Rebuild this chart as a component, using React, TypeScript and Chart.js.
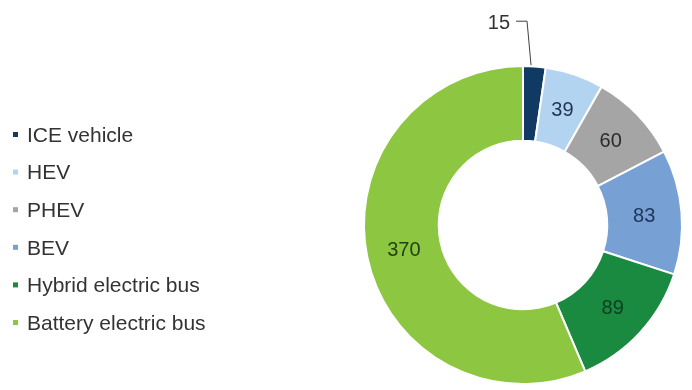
import React, { useEffect, useRef } from "react";
import { Chart, registerables } from "chart.js";

Chart.register(...registerables);

const categories = ["ICE vehicle", "HEV", "PHEV", "BEV", "Hybrid electric bus", "Battery electric bus"];
const values = [15, 39, 60, 83, 89, 370];
const sliceColors = ["#103a63", "#b3d4f0", "#a5a5a5", "#77a0d4", "#1a8a41", "#8dc641"];
const labelColors = ["#333333", "#1f3552", "#2b2b2b", "#1d3557", "#0f3d1f", "#24410f"];

const FONT = "'Liberation Sans', Arial, Helvetica, sans-serif";

const labelPlugin = {
  id: "sliceLabels",
  afterDatasetsDraw(chart: any) {
    const ctx = chart.ctx;
    const meta = chart.getDatasetMeta(0);
    ctx.save();
    ctx.font = `20px ${FONT}`;
    meta.data.forEach((el: any, i: number) => {
      const v = chart.data.datasets[0].data[i];
      if (i === 0) {
        const { x, y, startAngle, endAngle, outerRadius } = el.getProps(["x", "y", "startAngle", "endAngle", "outerRadius"], true);
        const a = startAngle + 0.35 * (endAngle - startAngle);
        const p0x = x + Math.cos(a) * (outerRadius + 1);
        const p0y = y + Math.sin(a) * (outerRadius + 1);
        const p1x = p0x - 4;
        const p1y = p0y - 44;
        const p2x = p1x - 11;
        ctx.strokeStyle = "#404040";
        ctx.lineWidth = 1;
        ctx.beginPath();
        ctx.moveTo(p0x, p0y);
        ctx.lineTo(p1x, p1y);
        ctx.lineTo(p2x, p1y);
        ctx.stroke();
        ctx.fillStyle = labelColors[i];
        ctx.textAlign = "right";
        ctx.textBaseline = "middle";
        ctx.fillText(String(v), p2x - 6, p1y + 2);
      } else {
        const c = el.getCenterPoint();
        ctx.fillStyle = labelColors[i];
        ctx.textAlign = "center";
        ctx.textBaseline = "middle";
        ctx.fillText(String(v), c.x, c.y + 1);
      }
    });
    // legend
    ctx.font = `21px ${FONT}`;
    ctx.textAlign = "left";
    ctx.textBaseline = "middle";
    categories.forEach((name, i) => {
      const yy = 135 + i * 37.6;
      ctx.fillStyle = sliceColors[i];
      ctx.fillRect(13, yy - 3, 5, 5);
      ctx.fillStyle = "#333333";
      ctx.fillText(name, 27, yy + 1);
    });
    ctx.restore();
  },
};

export default function App() {
  const ref = useRef<HTMLCanvasElement | null>(null);
  useEffect(() => {
    if (!ref.current) return;
    const chart = new Chart(ref.current, {
      type: "doughnut",
      data: {
        labels: categories,
        datasets: [
          {
            data: values,
            backgroundColor: sliceColors,
            borderColor: "#ffffff",
            borderWidth: 2,
          },
        ],
      },
      options: {
        responsive: false,
        animation: false,
        cutout: "53%",
        layout: { padding: { left: 363, right: 9, top: 65, bottom: 5 } },
        plugins: {
          legend: { display: false },
          tooltip: { enabled: false },
        },
      },
      plugins: [labelPlugin],
    });
    return () => chart.destroy();
  }, []);
  return (
    <div style={{ position: "absolute", left: 0, top: 0, width: 692, height: 390, background: "#fff" }}>
      <canvas ref={ref} width={692} height={390} />
    </div>
  );
}
